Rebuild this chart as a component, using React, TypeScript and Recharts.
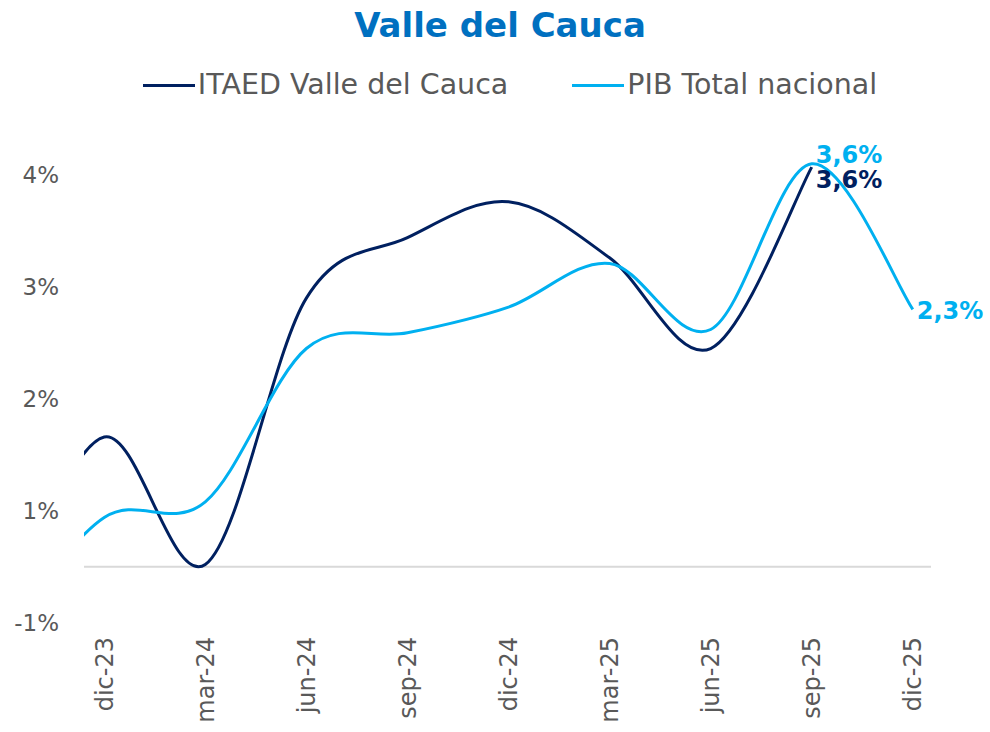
import { LineChart, Line, XAxis, YAxis, ReferenceLine, Legend } from 'recharts';

// Quarterly annual variation (%), sep-23 sits just outside the visible range
const quarters = ['sep-23', 'dic-23', 'mar-24', 'jun-24', 'sep-24', 'dic-24', 'mar-25', 'jun-25', 'sep-25', 'dic-25'];
const itaedValle = [-0.4, 1.16, 0.02, 2.4, 2.94, 3.26, 2.76, 1.95, 3.57, null];
const pibNacional = [-0.6, 0.44, 0.58, 1.95, 2.09, 2.32, 2.71, 2.12, 3.6, 2.3];

const xTickLabels = quarters.slice(1);
const yTicks = [-0.5, 0.5, 1.5, 2.5, 3.5];
const yTickLabels = ['-1%', '1%', '2%', '3%', '4%'];

const itaedLabelAt = ['sep-25'];
const pibLabelAt = ['sep-25', 'dic-25'];

const FONT = '"DejaVu Sans", sans-serif';
const NAVY = '#002060';
const SKY = '#00b0f0';
const GREY = '#595959';

const data = quarters.map((q, i) => ({
  idx: i,
  quarter: q,
  itaed: itaedValle[i],
  pib: pibNacional[i],
}));

const xTicks = xTickLabels.map((q) => quarters.indexOf(q));

// Excel style smoothing (Catmull-Rom to bezier)
const excelSmooth = (context: any) => {
  let pts: number[][] = [];
  return {
    areaStart() {},
    areaEnd() {},
    lineStart() {
      pts = [];
    },
    point(x: number, y: number) {
      pts.push([+x, +y]);
    },
    lineEnd() {
      if (!pts.length) return;
      context.moveTo(pts[0][0], pts[0][1]);
      for (let i = 0; i < pts.length - 1; i++) {
        const p0 = pts[Math.max(i - 1, 0)];
        const p1 = pts[i];
        const p2 = pts[i + 1];
        const p3 = pts[Math.min(i + 2, pts.length - 1)];
        context.bezierCurveTo(
          p1[0] + (p2[0] - p0[0]) / 6,
          p1[1] + (p2[1] - p0[1]) / 6,
          p2[0] - (p3[0] - p1[0]) / 6,
          p2[1] - (p3[1] - p1[1]) / 6,
          p2[0],
          p2[1]
        );
      }
    },
  };
};

const fmt = (v: number) => v.toFixed(1).replace('.', ',') + '%';

const makeLabel = (color: string, at: string[], dys: number[]) => (props: any) => {
  const { x, y, value, index } = props;
  const pos = at.indexOf(quarters[index]);
  if (pos < 0 || value == null) return null;
  return (
    <text
      key={`lbl-${color}-${index}`}
      x={x + 4}
      y={y + dys[pos]}
      fill={color}
      fontSize={24}
      fontWeight="bold"
      fontFamily={FONT}
      dominantBaseline="central"
    >
      {fmt(value)}
    </text>
  );
};

const XTick = ({ x, y, payload }: any) => (
  <text
    x={x}
    y={y}
    transform={`rotate(-90, ${x}, ${y})`}
    textAnchor="end"
    dy="0.35em"
    fill={GREY}
    fontSize={24}
    fontFamily={FONT}
  >
    {quarters[payload.value]}
  </text>
);

const YTick = ({ x, y, payload }: any) => (
  <text x={x} y={y} textAnchor="end" dy="0.35em" fill={GREY} fontSize={23} fontFamily={FONT}>
    {yTickLabels[yTicks.indexOf(payload.value)]}
  </text>
);

const renderLegend = ({ payload }: any) => (
  <div
    style={{
      display: 'flex',
      justifyContent: 'center',
      gap: 64,
      paddingLeft: 30,
      fontFamily: FONT,
      fontSize: 28.5,
      lineHeight: '38px',
      color: GREY,
    }}
  >
    {(payload || []).map((p: any) => (
      <div key={p.value} style={{ display: 'flex', alignItems: 'center' }}>
        <span style={{ display: 'inline-block', width: 52, height: 3, background: p.color, marginRight: 3 }} />
        {p.value}
      </div>
    ))}
  </div>
);

export default function App() {
  return (
    <div style={{ position: 'absolute', left: 0, top: 0, width: 990, height: 732, background: '#fff' }}>
      <div
        style={{
          position: 'absolute',
          top: 3,
          left: 0,
          width: 990,
          paddingLeft: 10,
          boxSizing: 'border-box',
          textAlign: 'center',
          fontFamily: FONT,
          fontWeight: 'bold',
          fontSize: 34,
          lineHeight: '44px',
          color: '#0070c0',
        }}
      >
        Valle del Cauca
      </div>
      <LineChart width={990} height={732} data={data} margin={{ top: 119, right: 59, bottom: 0, left: 0 }}>
        <XAxis
          dataKey="idx"
          type="number"
          domain={[0.8, 9.18]}
          allowDataOverflow
          ticks={xTicks}
          interval={0}
          height={98}
          tickSize={0}
          tickMargin={3}
          axisLine={false}
          tick={<XTick />}
        />
        <YAxis
          type="number"
          domain={[-0.5, 4]}
          ticks={yTicks}
          interval={0}
          width={84}
          tickSize={0}
          tickMargin={25}
          axisLine={false}
          tick={<YTick />}
        />
        <ReferenceLine y={0} stroke="#d9d9d9" strokeWidth={2} />
        <Legend
          verticalAlign="middle"
          align="center"
          layout="horizontal"
          wrapperStyle={{ top: 66, left: 0, width: 990 }}
          content={renderLegend}
        />
        <Line
          name="ITAED Valle del Cauca"
          dataKey="itaed"
          type={excelSmooth as any}
          stroke={NAVY}
          strokeWidth={3}
          dot={false}
          activeDot={false}
          isAnimationActive={false}
          label={makeLabel(NAVY, itaedLabelAt, [13])}
        />
        <Line
          name="PIB Total nacional"
          dataKey="pib"
          type={excelSmooth as any}
          stroke={SKY}
          strokeWidth={3}
          dot={false}
          activeDot={false}
          isAnimationActive={false}
          label={makeLabel(SKY, pibLabelAt, [-9, 2])}
        />
      </LineChart>
    </div>
  );
}
